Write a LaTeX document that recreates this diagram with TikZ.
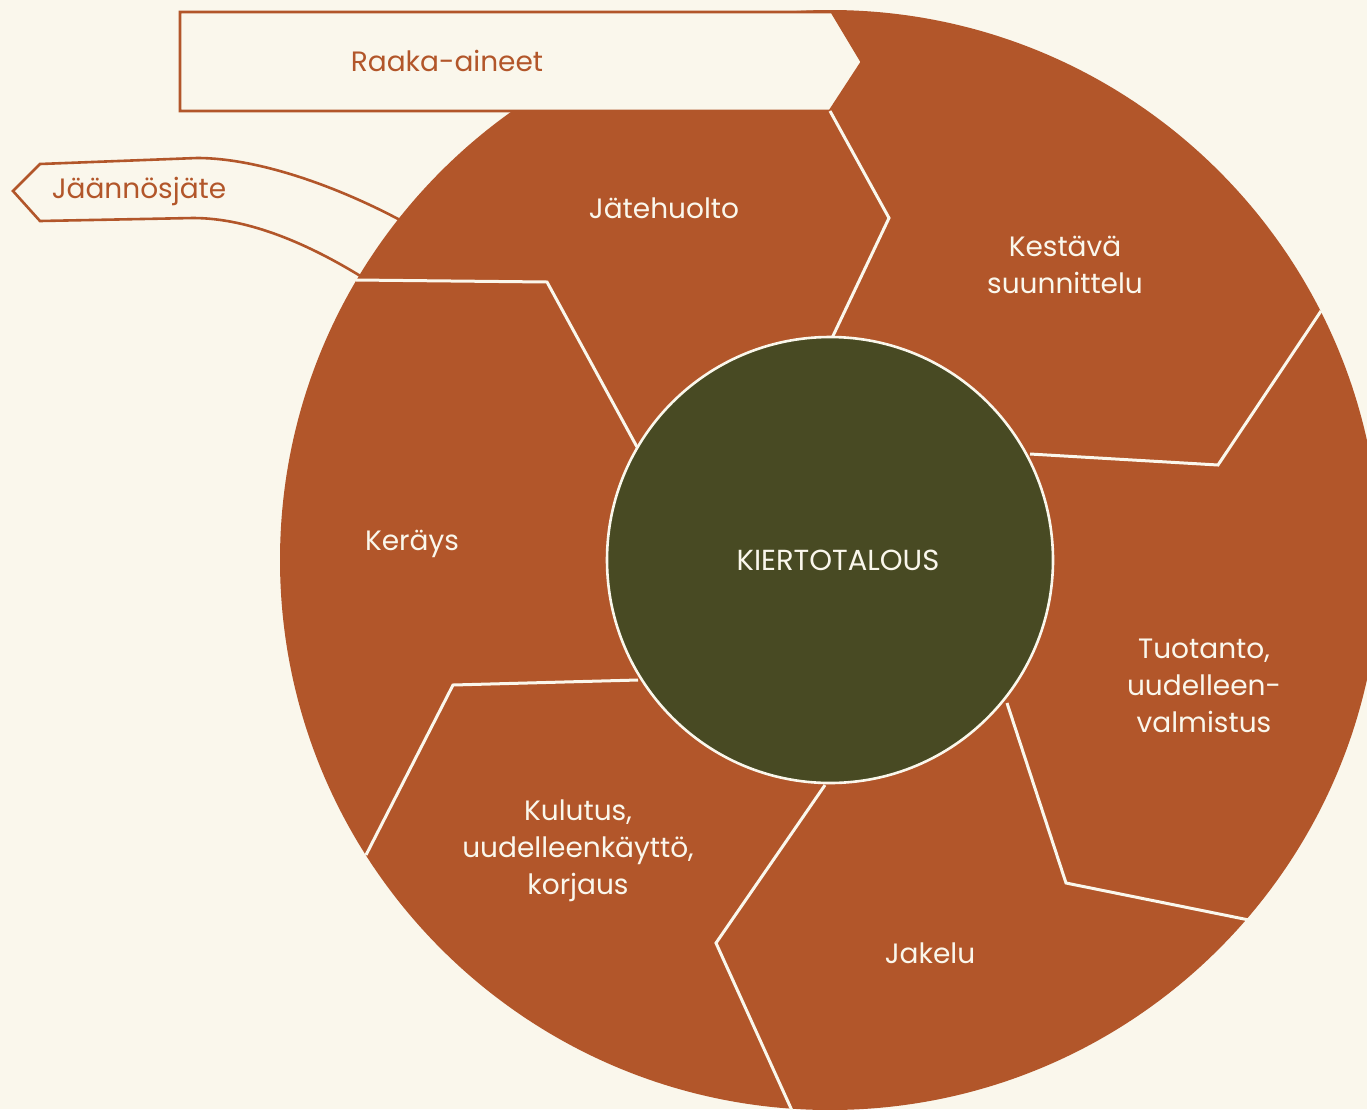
\documentclass[tikz,border=0pt]{standalone}
\usepackage{fontspec}
\setmainfont{Poppins}
\definecolor{cream}{HTML}{FAF7EC}
\definecolor{rust}{HTML}{B2562A}
\definecolor{olive}{HTML}{484A23}
\begin{document}
\begin{tikzpicture}[x=1pt,y=-1pt,
  divider/.style={draw=cream,line width=3pt,line join=miter},
  lbl/.style={text=cream,font=\fontsize{28}{37}\selectfont,align=center},
  olbl/.style={text=rust,font=\fontsize{28}{37}\selectfont}]
\useasboundingbox (0,0) rectangle (1367,1109);
\fill[cream] (0,0) rectangle (1367,1109);
\clip (0,0) rectangle (1367,1109);
\coordinate (C) at (830,560);
% residual waste arrow
\draw[rust,line width=2.6pt,fill=cream,line join=miter]
  (400,220) .. controls (340,188) and (260,158) .. (197,158) -- (40,164) -- (13,191) -- (40,221) -- (193,218)
  .. controls (250,218) and (310,245) .. (362,277) -- cycle;
\node[olbl] (jaannos) at (139,191) {Jäännösjäte};
% big ring
\fill[rust] (C) circle[radius=550];
% raw materials arrow
\draw[rust,line width=2.8pt,fill=cream,line join=miter]
  (180,12) -- (832,12) -- (862,62) -- (830,111) -- (180,111) -- cycle;
\node[olbl] (raaka) at (447,61) {Raaka-aineet};
% dividers
\draw[divider] (832,338) -- (889,218) -- (830,111);
\draw[divider] (1030,454) -- (1218,465) -- (1321,311);
\draw[divider] (1007,703) -- (1066,883) -- (1249,920);
\draw[divider] (825,785) -- (716,943) -- (794,1115);
\draw[divider] (638,680) -- (453,685) -- (366,855);
\draw[divider] (637,447) -- (547,282) -- (356,280);
% centre
\node[circle,fill=olive,draw=cream,line width=2.6pt,minimum size=446pt,inner sep=0pt] (centre) at (C) {};
\node[text=cream,font=\fontsize{29}{37}\selectfont] (kt) at (838,560) {KIERTOTALOUS};
\node[lbl] (jate) at (664,208) {Jätehuolto};
\node[lbl] (kestava) at (1065,265) {Kestävä\\suunnittelu};
\node[lbl] (tuotanto) at (1204,686) {Tuotanto,\\uudelleen-\\valmistus};
\node[lbl] (jakelu) at (930,953) {Jakelu};
\node[lbl] (kulutus) at (578,851) {Kulutus,\\uudelleenkäyttö,\\korjaus};
\node[lbl] (kerays) at (412,544) {Keräys};
\end{tikzpicture}
\end{document}
